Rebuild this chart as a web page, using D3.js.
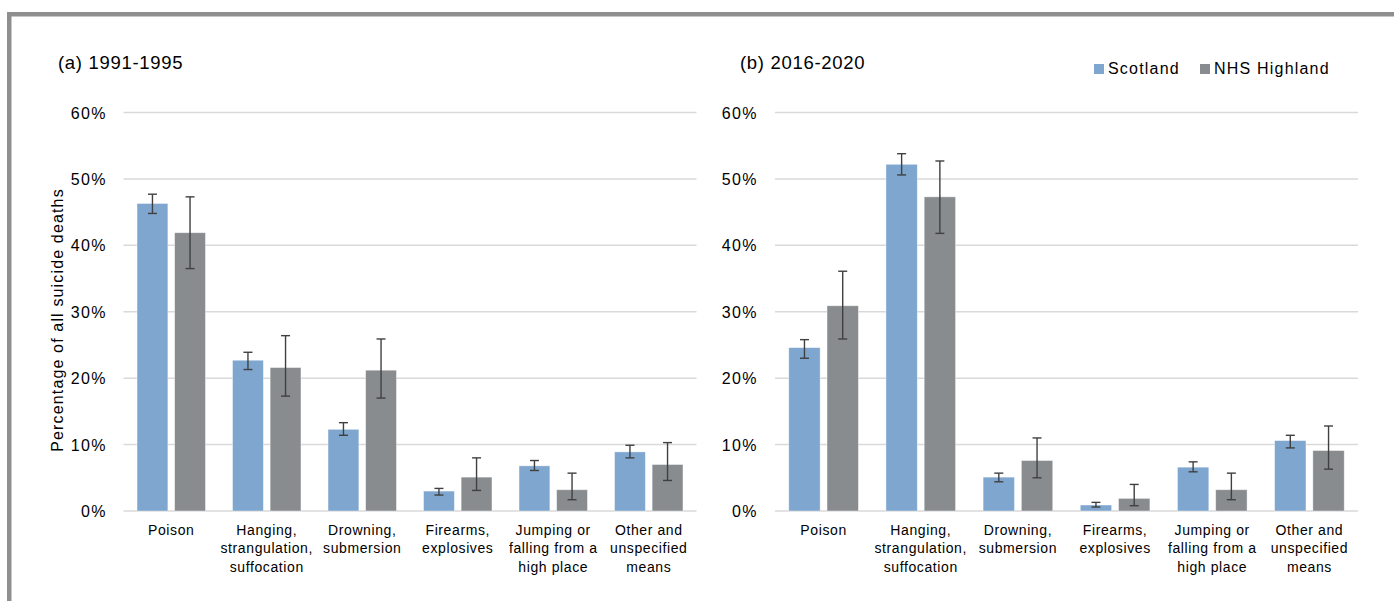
<!DOCTYPE html>
<html>
<head>
<meta charset="utf-8">
<script src="https://cdn.jsdelivr.net/npm/d3@7"></script>
<style>
  body { margin: 0; background: #fff; }
  svg { display: block; font-family: "Liberation Sans", Arial, sans-serif; }
</style>
</head>
<body>
<svg id="chart" width="1394" height="601"></svg>
<script>
// categories and their wrapped labels
var categories = ["Poison", "Hanging", "Drowning", "Firearms", "Jumping", "Other"];
var catLabels = [
  ["Poison"],
  ["Hanging,", "strangulation,", "suffocation"],
  ["Drowning,", "submersion"],
  ["Firearms,", "explosives"],
  ["Jumping or", "falling from a", "high place"],
  ["Other and", "unspecified", "means"]
];
var seriesNames = ["Scotland", "NHS Highland"];
var yTicks = [0, 10, 20, 30, 40, 50, 60];

// (a) 1991-1995
var a_scotland    = [46.3, 22.7, 12.3, 3.0, 6.8, 8.9];
var a_scotland_lo = [44.8, 21.3, 11.4, 2.4, 6.1, 8.0];
var a_scotland_hi = [47.7, 23.9, 13.3, 3.4, 7.6, 9.9];
var a_highland    = [41.9, 21.6, 21.2, 5.1, 3.2, 7.0];
var a_highland_lo = [36.5, 17.3, 17.0, 3.1, 1.7, 4.6];
var a_highland_hi = [47.3, 26.4, 25.9, 8.0, 5.7, 10.3];

// (b) 2016-2020
var b_scotland    = [24.6, 52.2, 5.1, 0.9, 6.6, 10.6];
var b_scotland_lo = [23.0, 50.6, 4.4, 0.6, 5.9, 9.5];
var b_scotland_hi = [25.8, 53.8, 5.7, 1.3, 7.4, 11.4];
var b_highland    = [30.9, 47.3, 7.6, 1.9, 3.2, 9.1];
var b_highland_lo = [25.9, 41.8, 5.0, 0.8, 1.7, 6.3];
var b_highland_hi = [36.1, 52.7, 11.0, 4.0, 5.7, 12.8];

var colors = { "Scotland": "#7ea6ce", "NHS Highland": "#888c8f" };

var svg = d3.select("#chart");

// grey frame (top and left edge)
svg.append("rect").attr("x", 7).attr("y", 12).attr("width", 1387).attr("height", 4.5).attr("fill", "#8f8f8f");
svg.append("rect").attr("x", 7).attr("y", 12).attr("width", 4.5).attr("height", 589).attr("fill", "#8f8f8f");

var y = d3.scaleLinear().domain([0, 60]).range([511, 112.5]);

function panel(title, titleX, left, right, labelRight, data) {
  var g = svg.append("g");

  g.append("text").attr("x", titleX).attr("y", 69)
    .attr("font-size", "18.5px").attr("letter-spacing", "0.7px").attr("fill", "#000")
    .text(title);

  // gridlines
  g.selectAll(".grid").data(yTicks).enter().append("line")
    .attr("x1", left).attr("x2", right)
    .attr("y1", function(d) { return y(d); }).attr("y2", function(d) { return y(d); })
    .attr("stroke", "#d9d9d9").attr("stroke-width", 1.5);

  g.selectAll(".ytick").data(yTicks).enter().append("text")
    .attr("x", labelRight).attr("y", function(d) { return y(d) + 6; })
    .attr("text-anchor", "end").attr("font-size", "16px").attr("letter-spacing", "1.4px")
    .attr("fill", "#000")
    .text(function(d) { return d + "%"; });

  var x0 = d3.scaleBand().domain(categories).range([left, right]);
  var x1 = d3.scaleBand().domain(seriesNames).range([0, x0.bandwidth()])
    .paddingInner(0.18).paddingOuter(0.36);

  data.forEach(function(s) {
    var sg = g.append("g");
    sg.selectAll("rect").data(categories).enter().append("rect")
      .attr("x", function(c) { return x0(c) + x1(s.name); })
      .attr("width", x1.bandwidth())
      .attr("y", function(c, i) { return y(s.values[i]); })
      .attr("height", function(c, i) { return y(0) - y(s.values[i]); })
      .attr("fill", colors[s.name])
      .attr("stroke", "#ffffff").attr("stroke-opacity", 0.5).attr("stroke-width", 0.8);

    var eg = sg.selectAll(".err").data(categories).enter().append("g");
    eg.append("line")
      .attr("x1", function(c) { return x0(c) + x1(s.name) + x1.bandwidth() / 2; })
      .attr("x2", function(c) { return x0(c) + x1(s.name) + x1.bandwidth() / 2; })
      .attr("y1", function(c, i) { return y(s.lo[i]); })
      .attr("y2", function(c, i) { return y(s.hi[i]); })
      .attr("stroke", "#404040").attr("stroke-width", 1.4);
    ["lo", "hi"].forEach(function(k) {
      eg.append("line")
        .attr("x1", function(c) { return x0(c) + x1(s.name) + x1.bandwidth() / 2 - 4.5; })
        .attr("x2", function(c) { return x0(c) + x1(s.name) + x1.bandwidth() / 2 + 4.5; })
        .attr("y1", function(c, i) { return y(s[k][i]); })
        .attr("y2", function(c, i) { return y(s[k][i]); })
        .attr("stroke", "#404040").attr("stroke-width", 1.4);
    });
  });

  // category labels
  var lab = g.selectAll(".xlab").data(categories).enter().append("text")
    .attr("text-anchor", "middle").attr("font-size", "14px").attr("letter-spacing", "0.6px")
    .attr("fill", "#000");
  lab.each(function(c, i) {
    var t = d3.select(this);
    catLabels[i].forEach(function(line, j) {
      t.append("tspan").attr("x", x0(c) + x0.bandwidth() / 2).attr("y", 535 + j * 18.3).text(line);
    });
  });
}

panel("(a) 1991-1995", 58, 123.5, 696.5, 107, [
  { name: "Scotland", values: a_scotland, lo: a_scotland_lo, hi: a_scotland_hi },
  { name: "NHS Highland", values: a_highland, lo: a_highland_lo, hi: a_highland_hi }
]);
panel("(b) 2016-2020", 740, 775, 1358, 758, [
  { name: "Scotland", values: b_scotland, lo: b_scotland_lo, hi: b_scotland_hi },
  { name: "NHS Highland", values: b_highland, lo: b_highland_lo, hi: b_highland_hi }
]);

// y axis title
svg.append("text")
  .attr("transform", "translate(63,320) rotate(-90)")
  .attr("text-anchor", "middle").attr("font-size", "16px").attr("letter-spacing", "1.15px")
  .attr("fill", "#000")
  .text("Percentage of all suicide deaths");

// legend
var legX = [1094, 1200];
var leg = svg.selectAll(".leg").data(seriesNames).enter().append("g")
  .attr("transform", function(d, i) { return "translate(" + legX[i] + ",0)"; });
leg.append("rect").attr("x", 0).attr("y", 64).attr("width", 10).attr("height", 10)
  .attr("fill", function(d) { return colors[d]; });
leg.append("text").attr("x", 14).attr("y", 74)
  .attr("font-size", "16px").attr("letter-spacing", "1.2px").attr("fill", "#000")
  .text(function(d) { return d; });
</script>
</body>
</html>
